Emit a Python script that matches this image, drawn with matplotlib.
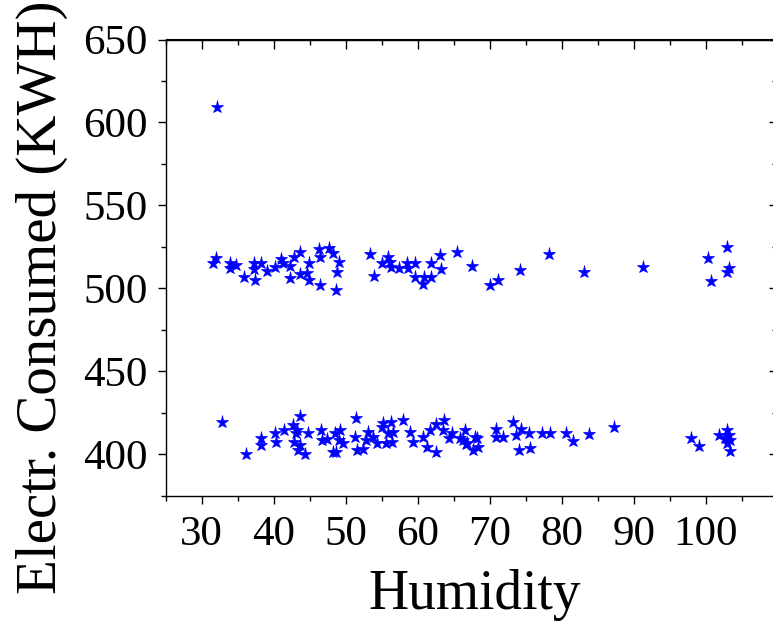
import numpy as np
import matplotlib
matplotlib.use("Agg")
from matplotlib import pyplot as plt

plt.rcParams['font.family'] = ['Liberation Serif', 'DejaVu Serif']

# upper group (about 500-525 KWH) + the outlier
hum_hi = [32.1, 31.5, 32.0, 33.9, 33.9, 34.8, 35.9, 37.2, 37.4, 37.3, 38.3, 39.0, 40.2,
          41.0, 41.3, 42.3, 42.3, 42.8, 43.6, 43.6, 44.6, 44.9, 44.9, 46.3, 46.4,
          46.4, 47.7, 48.2, 49.1, 48.8, 48.7, 53.4, 53.9, 55.0, 55.9, 56.2, 56.3,
          57.4, 58.5, 58.7, 59.6, 59.6, 60.9, 60.8, 61.9, 61.9, 63.1, 63.3, 65.5,
          67.5, 70.0, 71.2, 74.2, 78.3, 83.1, 91.3, 100.3, 100.7, 102.9, 103.3, 102.9]
kwh_hi = [609.4, 515.2, 518.2, 512.1, 515.2, 514.1, 507.1, 515.2, 505.1, 511.5, 515.2,
          510.7, 512.7, 517.6, 515.2, 513.5, 506.5, 519.1, 522.2, 508.7, 509.1, 515.5,
          505.1, 523.8, 518.8, 502.1, 524.2, 521.6, 515.8, 510.1, 499.0, 520.8, 507.7,
          515.2, 519.1, 516.1, 513.1, 512.1, 515.2, 512.1, 515.2, 507.1, 507.1, 502.7,
          515.2, 506.7, 520.2, 511.5, 521.8, 513.5, 502.1, 505.1, 511.1, 520.8, 509.7,
          512.7, 518.2, 504.6, 524.8, 512.1, 510.1]

# lower group (about 400-420 KWH)
hum_lo = [32.8, 36.1, 38.2, 38.2, 40.2, 40.3, 41.4, 42.7, 43.6, 43.1, 42.8, 43.6, 43.4,
          44.4, 44.7, 43.2, 46.5, 46.7, 47.4, 48.2, 48.7, 48.5, 49.2, 49.6, 49.0, 51.4,
          51.3, 51.5, 52.4, 52.8, 53.1, 53.8, 54.3, 55.0, 55.2, 55.6, 55.9, 56.3, 56.4,
          56.6, 58.0, 58.9, 59.4, 60.7, 61.3, 61.7, 62.5, 62.6, 63.7, 63.5, 64.3, 64.7,
          65.9, 66.6, 66.7, 67.7, 68.2, 68.4, 66.3, 66.8, 68.0, 70.9, 70.9, 71.8, 73.3,
          73.7, 74.3, 75.4, 74.1, 75.6, 77.2, 78.4, 80.6, 81.6, 83.8, 87.3, 97.9, 99.0,
          101.8, 102.9, 102.7, 103.4, 102.9, 103.4, 103.3]
kwh_lo = [419.5, 400.0, 409.5, 405.4, 412.5, 407.4, 414.5, 417.5, 422.9, 412.5, 407.4,
          405.4, 402.4, 400.4, 412.5, 414.5, 414.5, 408.5, 408.9, 401.4, 401.4, 412.5,
          414.5, 406.5, 408.5, 421.6, 410.4, 402.4, 403.4, 408.5, 413.5, 410.4, 406.5,
          416.5, 418.9, 406.5, 412.5, 419.5, 407.4, 413.5, 420.5, 413.5, 407.4, 410.4,
          404.4, 414.5, 418.5, 401.4, 420.5, 414.5, 409.5, 412.5, 409.5, 414.5, 406.0,
          402.4, 409.5, 404.4, 408.5, 406.5, 410.1, 415.5, 410.4, 410.4, 419.5, 411.5,
          415.5, 412.5, 402.8, 403.8, 412.9, 412.9, 412.9, 408.0, 412.1, 416.5, 409.5,
          404.8, 411.5, 414.5, 409.5, 408.5, 406.5, 402.0, 411.5]

x_ticks = [30, 40, 50, 60, 70, 80, 90, 100]
y_ticks = [400, 450, 500, 550, 600, 650]

fig = plt.figure(figsize=(7.73, 6.21), dpi=100)
ax = fig.add_axes([165.7/773, 1 - 495.7/621, (777.7 - 165.7)/773, (495.7 - 39.5)/621])

ax.plot(hum_hi + hum_lo, kwh_hi + kwh_lo, linestyle='none', marker='*',
        markersize=9.5, color='#0000ff', markeredgewidth=0.5)

ax.set_xlim(25, 110)
ax.set_ylim(375, 650)
ax.set_xticks(x_ticks)
ax.set_yticks(y_ticks)
ax.set_xticks(np.arange(25, 111, 5), minor=True)
ax.set_yticks(np.arange(375, 651, 25), minor=True)
ax.tick_params(which='both', direction='out', top=False, right=False, labelsize=31, width=1)
ax.tick_params(which='major', length=6)
ax.tick_params(which='minor', length=3.3)
ax.tick_params(axis='y', which='major', pad=7)
ax.tick_params(axis='x', which='major', pad=8)
for s in ax.spines.values():
    s.set_linewidth(1)

# mirrored ticks on top and right, pointing inwards
top = ax.secondary_xaxis('top')
top.set_xticks(x_ticks)
top.set_xticks(np.arange(25, 111, 5), minor=True)
top.tick_params(which='both', direction='in', labeltop=False, width=1)
top.tick_params(which='major', length=7)
top.tick_params(which='minor', length=4.3)
right = ax.secondary_yaxis('right')
right.set_yticks(y_ticks)
right.set_yticks(np.arange(375, 651, 25), minor=True)
right.tick_params(which='both', direction='in', labelright=False, width=1)
right.tick_params(which='major', length=6.5)
right.tick_params(which='minor', length=4)

fig.text(42/773, 1 - 297/621, 'Electr. Consumed (KWH)', rotation=90,
         ha='center', va='center', fontsize=41)
fig.text(475/773, 1 - 595/621, 'Humidity', ha='center', va='center', fontsize=40)

fig.savefig('out.png', dpi=100)
